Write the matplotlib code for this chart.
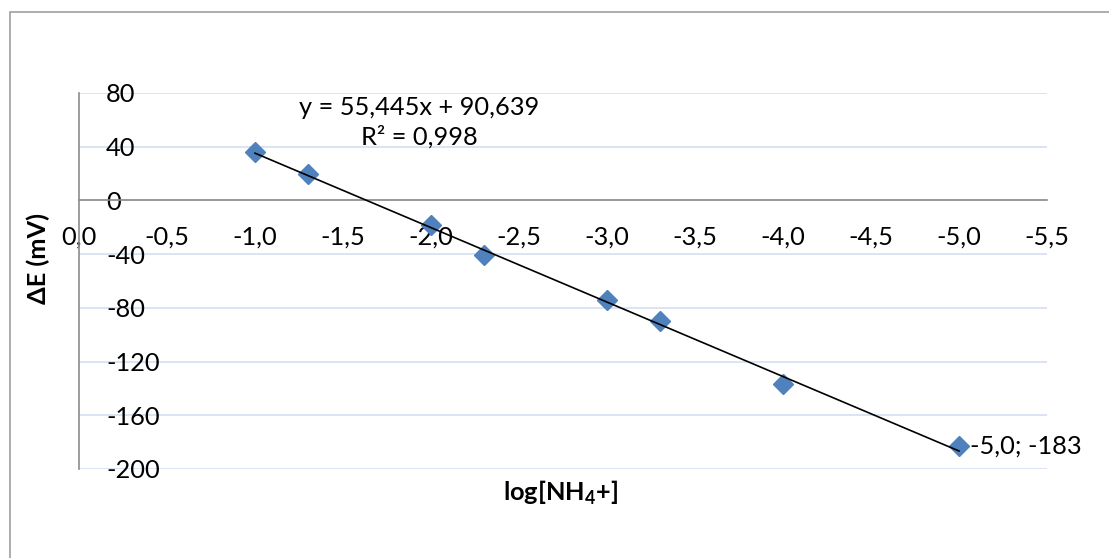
import numpy as np
import matplotlib
matplotlib.use("Agg")
import matplotlib.pyplot as plt
from matplotlib.patches import Rectangle

plt.rcParams['font.family'] = ['Lato', 'DejaVu Sans']
plt.rcParams['mathtext.fontset'] = 'custom'
plt.rcParams['mathtext.rm'] = 'Lato'
plt.rcParams['mathtext.bf'] = 'Lato:bold'

# data
log_nh4 = [-1.0, -1.3, -2.0, -2.3, -3.0, -3.3, -4.0, -5.0]
delta_e = [36, 20, -18, -41, -74, -90, -137, -183]

# trendline as printed on the chart
slope = 55.445
intercept = 90.639
r2 = 0.998

x_ticks = np.arange(0, -5.51, -0.5)
y_ticks = np.arange(-200, 81, 40)

FS = 18.3
BLUE = '#4F81BD'
GRID = '#D3DFF0'
AXIS = '#8C8C8C'

fig = plt.figure(figsize=(11.09, 5.58), dpi=100)
ax = fig.add_axes([79 / 1109, 1 - 469 / 558, 968 / 1109, 376 / 558])

# outer chart frame (runs off the right and bottom edge)
fig.patches.append(Rectangle((10 / 1109, -0.05), 1.1, 1.05 - 12 / 558,
                             transform=fig.transFigure, fill=False,
                             edgecolor='#A6A6A6', lw=1.3, clip_on=False))

ax.set_xlim(0, -5.5)
ax.set_ylim(-200, 80)

ax.set_yticks(y_ticks)
ax.yaxis.grid(True, color=GRID, lw=1.2)
ax.set_axisbelow(True)

ax.set_xticks(x_ticks)
ax.set_xticklabels([f"{abs(v) if v == 0 else v:.1f}".replace('.', ',') for v in x_ticks])
ax.set_yticklabels([str(v) for v in y_ticks])
for lab in ax.get_yticklabels():
    lab.set_horizontalalignment('left')
ax.tick_params(axis='y', length=0, pad=-19.5, labelsize=FS)
ax.tick_params(axis='x', length=0, pad=18, labelsize=FS)

for s in ['top', 'right']:
    ax.spines[s].set_visible(False)
ax.spines['bottom'].set_position(('data', 0))
ax.spines['bottom'].set_color(AXIS)
ax.spines['left'].set_color(AXIS)
ax.spines['bottom'].set_linewidth(1.2)
ax.spines['left'].set_linewidth(1.2)

# trendline
xt = np.array([log_nh4[0], log_nh4[-1]])
ax.plot(xt, slope * xt + intercept, color='black', lw=1.2, zorder=3)

ax.plot(log_nh4, delta_e, linestyle='none', marker='D', markersize=10,
        color=BLUE, zorder=2)

eq = f"y = {slope:.3f}x + {intercept:.3f}".replace('.', ',')
r2_txt = f"R² = {r2:.3f}".replace('.', ',')
ax.text(-1.935, 58, eq + "\n" + r2_txt, ha='center', va='center',
        multialignment='center', fontsize=FS, linespacing=1.3)

lx, ly = log_nh4[-1], delta_e[-1]
ax.annotate(f"{lx:.1f}; {ly}".replace('.', ','), xy=(lx, ly),
            xytext=(8, 0), textcoords='offset points',
            va='center', ha='left', fontsize=FS)

fig.text(38 / 1109, 1 - 258 / 558, "ΔE (mV)", rotation=90, ha='center',
         va='center', fontsize=FS, fontweight='bold')
fig.text(561 / 1109, 1 - 493 / 558, r"log[NH$_{\mathbf{4}}$+]", ha='center',
         va='center', fontsize=FS, fontweight='bold')

fig.savefig('out.png', dpi=100)
